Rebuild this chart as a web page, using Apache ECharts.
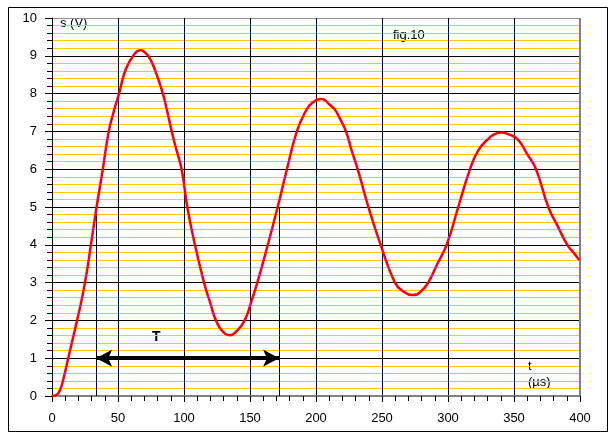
<!doctype html>
<html lang="fr">
 <head>
  <meta charset="UTF-8">
  <style type="text/css">
  html,body{margin:0;padding:0;background:#fff;}
  #fig{width:614px;height:436px;}
  </style>
  <script src="https://cdn.jsdelivr.net/npm/echarts@6/dist/echarts.min.js"></script>
  <title>fig.10</title>
 </head>
 <body>
    <div id="fig"></div>
    <script type="text/javascript">
    // t en microsecondes, s en volts
    var timeUs = [0,3,6,9,12,15,19,22.5,26,29.5,33.8,38.5,43,47,50.8,54.5,58,61.6,64.5,67.2,70,72.8,76,79.3,84,87.5,90.7,94,98.2,102.5,108.3,115.2,120,124.2,129,134.8,140,146,151,156,163.5,171,178,185.5,191.7,197,204.3,210,214.4,218,222.7,227,231.6,239.7,249,259.8,266,273.2,279,285,292,299,307.8,316.7,323,330.5,335,340.2,346,352.5,360,366.7,376,383,390.4,395,399.5];
    var voltage = [0,0.02,0.15,0.5,0.95,1.4,2.0,2.55,3.2,4.0,5.0,6.0,7.0,7.55,8.0,8.5,8.8,9.0,9.12,9.15,9.1,9.0,8.8,8.5,8.0,7.5,7.0,6.55,6.0,5.0,4.0,3.0,2.45,2.0,1.72,1.61,1.72,2.0,2.5,3.05,4.0,5.0,6.0,7.0,7.5,7.75,7.86,7.72,7.57,7.35,7.0,6.5,6.0,5.0,4.0,3.0,2.77,2.67,2.75,3.0,3.5,4.0,5.0,6.0,6.5,6.8,6.92,6.97,6.92,6.8,6.4,6.0,5.0,4.5,4.0,3.8,3.6];

    // periode T : deux reperes verticaux et la fleche
    var periodMarks = [33.5, 172];
    var periodTop = 5;
    var arrowLevel = 1;

    var xTicks = [0,50,100,150,200,250,300,350,400];
    var yTicks = [0,1,2,3,4,5,6,7,8,9,10];

    var curve = [];
    for (var i = 0; i < timeUs.length; i++) {
        curve.push([timeUs[i], voltage[i]]);
    }

    // couleurs des lignes de grille (bord haut/droit gris)
    var xSplitColors = xTicks.map(function (v, i) { return i == xTicks.length - 1 ? '#808080' : '#000'; });
    var ySplitColors = yTicks.map(function (v, i) { return i == yTicks.length - 1 ? '#909090' : '#000'; });

    var font = '"Liberation Sans", Arial, sans-serif';
    var myChart = echarts.init(document.getElementById('fig'));

    var option = {
        animation: false,
        backgroundColor: '#fff',
        grid: { left: 52, right: 34, top: 18, bottom: 40 },
        xAxis: {
            type: 'value',
            min: xTicks[0],
            max: xTicks[xTicks.length - 1],
            interval: 50,
            axisLine: { show: true, onZero: false, lineStyle: { color: '#808080', width: 2 } },
            axisTick: { show: true, inside: false, length: 6, lineStyle: { color: '#000', width: 1 } },
            minorTick: { show: true, splitNumber: 5, length: 5, lineStyle: { color: '#000', width: 1 } },
            axisLabel: { color: '#000', fontSize: 13, fontFamily: font, margin: 16 },
            splitLine: { show: true, lineStyle: { color: xSplitColors, width: 1 } }
        },
        yAxis: {
            type: 'value',
            min: yTicks[0],
            max: yTicks[yTicks.length - 1],
            interval: 1,
            axisLine: { show: true, onZero: false, lineStyle: { color: '#000', width: 1 } },
            axisTick: { show: true, inside: false, length: 7, lineStyle: { color: '#000', width: 1 } },
            minorTick: { show: true, splitNumber: 5, length: 5, lineStyle: { color: '#000', width: 1 } },
            axisLabel: { color: '#000', fontSize: 13, fontFamily: font, margin: 15 },
            splitLine: { show: true, lineStyle: { color: ySplitColors, width: 1 } },
            minorSplitLine: { show: true, lineStyle: { color: '#FFCC00', width: 1 } }
        },
        graphic: [
            { type: 'rect', left: 6, top: 5, shape: { width: 599, height: 424 }, style: { fill: null, stroke: '#000', lineWidth: 1 }, silent: true },
            { type: 'line', shape: { x1: 580, y1: 18, x2: 580, y2: 396 }, style: { stroke: '#808080', lineWidth: 2 }, silent: true, z: 5 },
            { type: 'text', left: 60, top: 17, style: { text: 's (V)', fill: '#000', font: '13px ' + font } },
            { type: 'text', left: 393, top: 29, style: { text: 'fig.10', fill: '#000', font: '13px ' + font } },
            { type: 'text', left: 528, top: 360, style: { text: 't', fill: '#000', font: '13px ' + font } },
            { type: 'text', left: 528, top: 376, style: { text: '(µs)', fill: '#000', font: '13px ' + font } },
            { type: 'text', left: 152, top: 330, style: { text: 'T', fill: '#000', font: 'bold 14px ' + font } }
        ],
        series: [
            {
                name: 's',
                type: 'line',
                data: curve,
                smooth: 0.5,
                showSymbol: false,
                z: 10,
                lineStyle: { color: '#FF0000', width: 2.5 }
            },
            {
                type: 'line',
                data: [],
                z: 6,
                markLine: {
                    silent: true,
                    symbol: 'none',
                    label: { show: false },
                    lineStyle: { color: '#000', width: 1, type: 'solid' },
                    data: periodMarks.map(function (t) {
                        return [{ coord: [t, 0] }, { coord: [t, periodTop] }];
                    })
                }
            },
            {
                type: 'line',
                data: [],
                z: 7,
                markLine: {
                    silent: true,
                    symbol: ['arrow', 'arrow'],
                    symbolSize: [13, 16],
                    label: { show: false },
                    lineStyle: { color: '#000', width: 4, type: 'solid' },
                    data: [[{ coord: [periodMarks[0], arrowLevel] }, { coord: [periodMarks[1], arrowLevel] }]]
                }
            }
        ]
    };
    myChart.setOption(option);
    </script>
 </body>
</html>
